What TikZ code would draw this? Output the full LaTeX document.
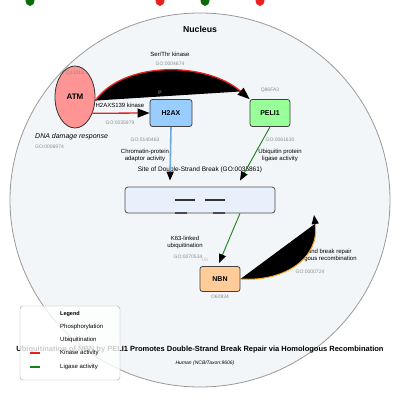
\documentclass[tikz,border=0pt]{standalone}
\usepackage{fontspec}
\setmainfont{Liberation Sans}
\usetikzlibrary{arrows.meta,shapes.geometric}

\definecolor{nucfill}{HTML}{F3F6F9}
\definecolor{atmfill}{HTML}{FF9494}
\definecolor{h2axfill}{HTML}{99CCFF}
\definecolor{pelifill}{HTML}{99FF99}
\definecolor{nbnfill}{HTML}{FFCC99}
\definecolor{dsbfill}{HTML}{E8F1FB}
\definecolor{kinred}{HTML}{E82020}
\definecolor{ligreen}{HTML}{1A7F1A}
\definecolor{adaptblue}{HTML}{6FA8DC}
\definecolor{hrorange}{HTML}{F5A623}
\definecolor{dotgreen}{HTML}{0B6B0B}

\begin{document}
\begin{tikzpicture}[x=1pt, y=-1pt,
  every node/.style={font=\fontsize{6}{7}\selectfont, inner sep=0pt},
  gene/.style={draw=black!75, line width=0.8pt, rounded corners=2.5pt,
    minimum width=42pt, minimum height=27pt, font=\fontsize{7}{8}\selectfont\bfseries},
  golabel/.style={text=black!45, font=\fontsize{5}{6}\selectfont},
  endtip/.style={-{Triangle[length=9pt,width=7pt,color=black,fill=black]}},
  bigtip/.style={-{Triangle[length=12pt,width=9pt,color=black,fill=black]}},
  kinase/.style={draw=kinred, line width=1.3pt},
  ligase/.style={draw=ligreen, line width=0.9pt}]
  \useasboundingbox (0,0) rectangle (400,400);
  % dots at the top edge
  \fill[dotgreen] (30,0) ellipse (4.5 and 6);
  \fill[kinred] (160,0) ellipse (4.5 and 6);
  \fill[dotgreen] (205,0) ellipse (4.5 and 6);
  \fill[kinred] (260,0) ellipse (4.5 and 6);
  % nucleus
  \draw[draw=black!40, fill=nucfill, line width=0.8pt] (200,200) ellipse (190 and 187);
  \node[font=\fontsize{8.7}{10}\selectfont\bfseries] (nuclab) at (200,29) {Nucleus};
  % site of the break
  \node[draw=black!70, fill=dsbfill, line width=0.8pt, rounded corners=3pt,
    minimum width=150pt, minimum height=26pt] (dsb) at (200,200) {};
  \draw[black!80, line width=1.8pt] (175,200) -- (195,200) (205,200) -- (225,200);
  \draw[black!70, line width=1.8pt] (175,213) -- (187,213) (213,213) -- (225,213);
  \node[font=\fontsize{6.5}{8}\selectfont] (dsblab) at (200,170) {Site of Double-Strand Break (GO:0035861)};
  % repair process label, partly hidden
  \node[align=center] (hrlab) at (316,255) {Double-strand break repair\\via homologous recombination};
  \node[golabel] (hrgo) at (310,272) {GO:0000724};
  \coordinate (hr) at (314,215);
  % genes
  \node[ellipse, draw=black!80, fill=atmfill, line width=0.8pt, minimum width=40pt,
    minimum height=62pt, font=\fontsize{8}{9}\selectfont\bfseries] (atm) at (75,97) {ATM};
  \node[gene, fill=h2axfill] (h2ax) at (171,113) {H2AX};
  \node[gene, fill=pelifill, minimum width=40pt] (peli1) at (270,113) {PELI1};
  \node[gene, fill=nbnfill, minimum width=40pt, minimum height=25pt] (nbn) at (220,279) {NBN};
  % filled arcs
  \draw[kinase, fill=black, bigtip] (atm.-10) .. controls (125,60) and (207,62) .. (peli1.north west);
  \draw[draw=hrorange, line width=1pt, fill=black, endtip] (nbn.east) .. controls (285,282) and (320,258) .. (hr);
  % straight connectors
  \draw[kinase, bigtip] (atm.-43) -- (h2ax.west);
  \draw[draw=adaptblue, line width=1.6pt, endtip] (h2ax.south) -- ([xshift=-30pt,yshift=6pt]dsb.north);
  \draw[ligase, endtip] (peli1.south) -- ([xshift=40pt,yshift=6pt]dsb.north);
  \draw[ligase, endtip] ([xshift=40pt]dsb.south) -- ([xshift=-1pt,yshift=3pt]nbn.north);
  % labels
  \node[golabel] (atmid) at (75,73) {Q13315};
  \node[anchor=west, font=\fontsize{7}{8}\selectfont\itshape] (ddr) at (35,137) {DNA damage response};
  \node[golabel, anchor=west] (ddrgo) at (35,147) {GO:0006974};
  \node (serthr) at (170,54) {Ser/Thr kinase};
  \node[golabel] (serthrgo) at (170,64) {GO:0004674};
  \node (s139) at (120,105) {H2AXS139 kinase};
  \node[golabel] (s139go) at (120,123) {GO:0035979};
  \node[golabel, text=black!35] (phos) at (160,93) {P};
  \node[golabel] (peliid) at (270,90) {Q86FA3};
  \node[golabel] (adaptgo) at (145,140) {GO:0140463};
  \node[align=center] (adapt) at (145,155) {Chromatin-protein\\adaptor activity};
  \node[golabel] (ligasego) at (280,140) {GO:0061630};
  \node[align=center] (ligase) at (280,155) {Ubiquitin protein\\ligase activity};
  \node[align=center] (k63) at (185,242) {K63-linked\\ubiquitination};
  \node[golabel] (k63go) at (188,257) {GO:0070534};
  \node[golabel, text=black!25] (ub) at (205,260) {Ub};
  \node[golabel] (nbnid) at (220,297) {O60934};
  % title
  \node[font=\fontsize{7.5}{9}\selectfont\bfseries] (title) at (200,350)
    {Ubiquitination of NBN by PELI1 Promotes Double-Strand Break Repair via Homologous Recombination};
  \node[font=\fontsize{5}{6}\selectfont\itshape] (species) at (205,363) {Human (NCBITaxon:9606)};
  % legend
  \node[draw=black!35, fill=white, fill opacity=0.8, rounded corners=3pt,
    minimum width=100pt, minimum height=74pt] (legend) at (70,343) {};
  \node[anchor=west, font=\fontsize{5.5}{6}\selectfont\bfseries] (leghead) at (60,314) {Legend};
  \node[anchor=west] (legphos) at (60,327) {Phosphorylation};
  \node[anchor=west] (legub) at (60,340) {Ubiquitination};
  \node[anchor=west] (legkin) at (60,353) {Kinase activity};
  \node[anchor=west] (leglig) at (60,367) {Ligase activity};
  \draw[draw=kinred, line width=1.3pt] (30,353) -- (40,353);
  \draw[draw=ligreen, line width=1.3pt] (30,367) -- (40,367);
\end{tikzpicture}
\end{document}
